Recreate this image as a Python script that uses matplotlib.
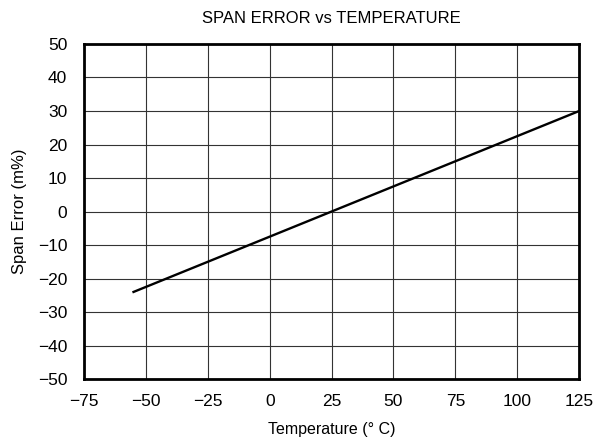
import matplotlib
matplotlib.use("Agg")
import matplotlib.pyplot as plt

plt.rcParams['font.family'] = ['Liberation Sans', 'DejaVu Sans']

temperature = [-55, -25, 0, 25, 50, 75, 100, 125]
span_error = [-24, -15, -7.5, 0, 7.5, 15, 22.5, 30]
xticks = [-75, -50, -25, 0, 25, 50, 75, 100, 125]
yticks = [-50, -40, -30, -20, -10, 0, 10, 20, 30, 40, 50]

fig = plt.figure(figsize=(5.98, 4.47), dpi=100)
ax = fig.add_axes([0.1405, 0.152, 0.828, 0.7496])
ax.plot(temperature, span_error, color='black', lw=1.7)
ax.set_xlim(-75, 125)
ax.set_ylim(-50, 50)
ax.set_xticks(xticks)
ax.set_yticks(yticks)
ax.set_xticklabels([str(t).replace('-', '\u2212') for t in xticks])
ax.set_yticklabels([str(t).replace('-', '\u2212') for t in yticks])
ax.grid(True, color='#333333', lw=0.8)
ax.tick_params(axis='x', length=0, labelsize=12.5, pad=11)
ax.tick_params(axis='y', length=0, labelsize=12.5, pad=12)
for s in ax.spines.values():
    s.set_linewidth(2)
ax.set_xlabel('Temperature (\u00b0 C)', fontsize=11.5, labelpad=9)
ax.set_ylabel('Span Error (m%)', fontsize=12, labelpad=8)
ax.set_title('SPAN ERROR vs TEMPERATURE', fontsize=12, pad=15)
fig.savefig('out.png', dpi=100)
